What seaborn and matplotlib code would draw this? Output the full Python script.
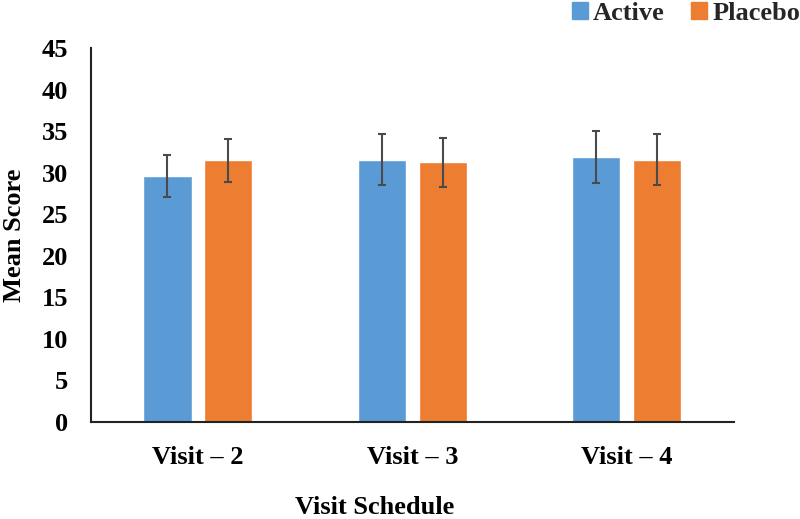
import matplotlib
matplotlib.use("Agg")
import matplotlib.pyplot as plt
import seaborn as sns
import pandas as pd
import numpy as np

visits = ["Visit \u2013 2", "Visit \u2013 3", "Visit \u2013 4"]
groups = ["Active", "Placebo"]
active_mean = [29.6, 31.6, 31.9]
placebo_mean = [31.5, 31.3, 31.6]
active_err = [2.5, 3.1, 3.1]
placebo_err = [2.55, 2.95, 3.1]
yticks = [0, 5, 10, 15, 20, 25, 30, 35, 40, 45]

colors = {"Active": "#5B9BD5", "Placebo": "#ED7D31"}

df = pd.DataFrame({
    "Visit": visits * 2,
    "Group": ["Active"] * 3 + ["Placebo"] * 3,
    "Score": active_mean + placebo_mean,
    "Err": active_err + placebo_err,
})

sns.set_theme(style="white")
plt.rcParams["font.family"] = ["Liberation Serif", "DejaVu Serif"]
plt.rcParams["font.weight"] = "bold"

fig = plt.figure(figsize=(8, 5.19), dpi=100)
ax = fig.add_axes([0.1134, 0.187, 0.8041, 0.720])

sns.barplot(data=df, x="Visit", y="Score", hue="Group", order=visits,
            hue_order=groups, palette=colors, width=0.568, gap=0.21,
            errorbar=None, ax=ax, saturation=1)

errs = {"Active": active_err, "Placebo": placebo_err}
means = {"Active": active_mean, "Placebo": placebo_mean}
for cont, g in zip(ax.containers, groups):
    xs = [p.get_x() + p.get_width() / 2 for p in cont.patches]
    ax.errorbar(xs, means[g], yerr=errs[g], fmt="none", ecolor="#4a4a4a",
                elinewidth=1.5, capsize=3, capthick=1.5, zorder=5)

ax.set_ylim(0, 45)
ax.set_xlim(-0.5, 2.5)
ax.set_yticks(yticks)
ax.set_yticklabels([str(t) for t in yticks])
ax.tick_params(axis="both", length=0, labelsize=19)
ax.tick_params(axis="x", pad=17)
ax.tick_params(axis="y", pad=16)
for lab in ax.get_xticklabels() + ax.get_yticklabels():
    lab.set_fontweight("bold")
    lab.set_color("black")

for s in ["top", "right"]:
    ax.spines[s].set_visible(False)
for s in ["left", "bottom"]:
    ax.spines[s].set_color("#222222")
    ax.spines[s].set_linewidth(1.5)

ax.set_ylabel("Mean Score", fontsize=19, fontweight="bold", color="black",
              va="center")
ax.set_xlabel("Visit Schedule", fontsize=19, fontweight="bold", color="black",
              va="center")
ax.yaxis.set_label_coords(-0.119, 0.5)
ax.xaxis.set_label_coords(0.442, -0.23)

ax.get_legend().remove()
handles = [plt.Rectangle((0, 0), 1, 1, color=colors[g]) for g in groups]
fig.legend(handles, groups, loc="upper right", bbox_to_anchor=(1.0, 0.997),
           ncol=2, frameon=False, handlelength=0.6,
           handleheight=0.6, handletextpad=0.2, columnspacing=1.0,
           borderpad=0, borderaxespad=0, prop={"weight": "bold", "size": 19})

fig.savefig("out.png", dpi=100, facecolor="white")
